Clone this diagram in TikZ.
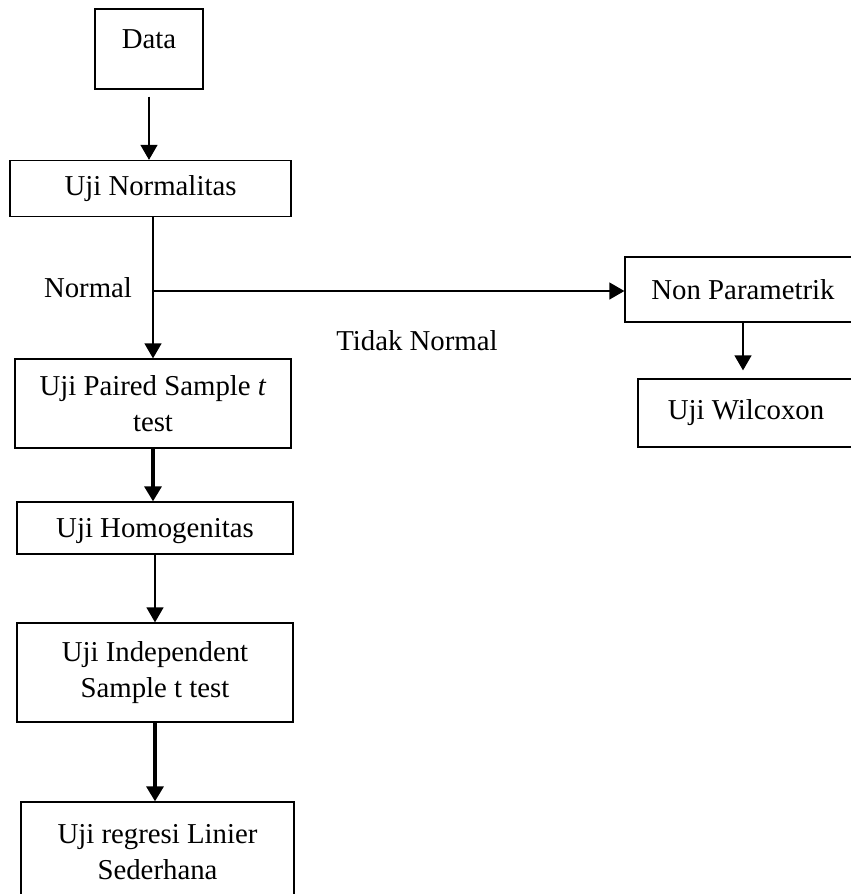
\documentclass[tikz,border=0pt]{standalone}
\usepackage{fontspec}
\setmainfont{Liberation Serif}
\usetikzlibrary{arrows.meta}
\begin{document}
\begin{tikzpicture}[x=0.5pt, y=-0.5pt, font=\fontsize{14.4}{18}\selectfont,
  box/.style={draw, line width=0.65pt, align=center, inner sep=0pt},
  arr/.style={-{Triangle[width=8.5pt,length=7.5pt]}, line width=0.65pt},
  thickarr/.style={-{Triangle[width=8.5pt,length=7.5pt]}, line width=1.6pt}]
\useasboundingbox (0,0) rectangle (851,894);
% left column
\node[box, minimum width=54pt, minimum height=40pt, text height=10pt, text depth=10.7pt] (data) at (149,49) {Data};
\node[box, minimum width=140.5pt, minimum height=28pt] (norm) at (150.5,188.5) {Uji Normalitas};
\node[box, minimum width=138pt, minimum height=44.5pt] (paired) at (153,403.5) {Uji Paired Sample \textit{t}\\test};
\node[box, minimum width=138pt, minimum height=26pt, text depth=0pt] (homog) at (155,528) {Uji Homogenitas};
\node[box, minimum width=138pt, minimum height=49.5pt] (indep) at (155,672.5) {Uji Independent\\Sample t test};
\node[box, minimum width=136.5pt, minimum height=50pt] (regresi) at (157.5,852) {Uji regresi Linier\\Sederhana};
% right column
\node[box, minimum width=118pt, minimum height=32.5pt] (nonpar) at (743,289.5) {Non Parametrik};
\node[box, minimum width=108pt, minimum height=34pt] (wilc) at (746,413) {Uji Wilcoxon};
% labels
\node (normal) at (88,288) {Normal};
\node (tidak) at (417,341) {Tidak Normal};
% connectors
\coordinate (split) at (153,291);
\draw[arr, shorten <=3.5pt] (data.south) -- (data.south |- norm.north);
\draw[arr] (paired.north |- norm.south) -- (paired.north);
\draw[arr] (split) -- (split -| nonpar.west);
\draw[thickarr] (paired.south) -- (paired.south |- homog.north);
\draw[arr] (homog.south) -- (indep.north);
\draw[thickarr] (indep.south) -- (indep.south |- regresi.north);
\draw[arr, shorten >=4pt] (nonpar.south) -- (nonpar.south |- wilc.north);
\end{tikzpicture}
\end{document}
